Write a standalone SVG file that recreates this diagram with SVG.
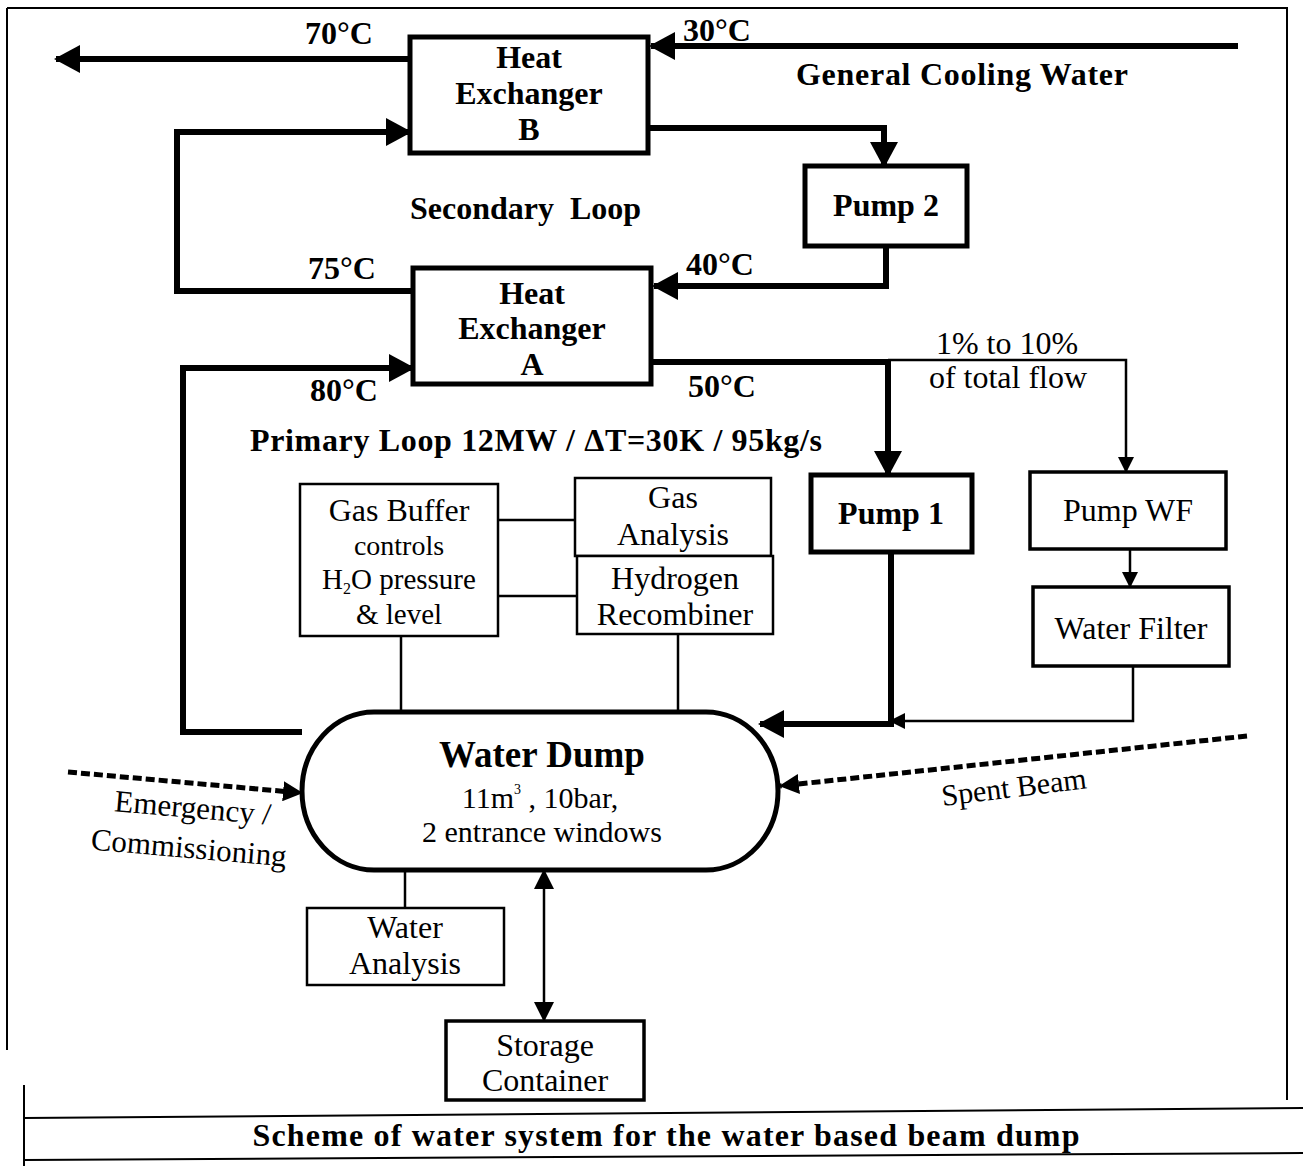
<svg xmlns="http://www.w3.org/2000/svg" width="1303" height="1166" viewBox="0 0 1303 1166">
<style>
.bold{font-family:"Liberation Serif","Times New Roman",serif;font-weight:bold;font-size:32px;fill:#000}
.reg{font-family:"Liberation Serif","Times New Roman",serif;font-size:32px;fill:#000}
.c{text-anchor:middle}
.thick{fill:#fff;stroke:#000;stroke-width:5}
.thin{fill:#fff;stroke:#000;stroke-width:2.5}
.pipe{fill:none;stroke:#000;stroke-width:6;stroke-linejoin:miter}
.line{fill:none;stroke:#000;stroke-width:2.5}
.dash{fill:none;stroke:#000;stroke-width:5;stroke-dasharray:9 4}
.frame{fill:none;stroke:#000;stroke-width:2}
</style>
<defs>
<marker id="big" markerUnits="userSpaceOnUse" markerWidth="26" markerHeight="28" refX="24" refY="14" orient="auto">
<path d="M0,0 L26,14 L0,28 Z" fill="#000"/>
</marker>
<marker id="small" markerUnits="userSpaceOnUse" markerWidth="16" markerHeight="16" refX="15" refY="8" orient="auto">
<path d="M0,0 L16,8 L0,16 Z" fill="#000"/>
</marker>
<marker id="mid" markerUnits="userSpaceOnUse" markerWidth="20" markerHeight="20" refX="19" refY="10" orient="auto">
<path d="M0,0 L20,10 L0,20 Z" fill="#000"/>
</marker>
<marker id="midStart" markerUnits="userSpaceOnUse" markerWidth="20" markerHeight="20" refX="1" refY="10" orient="auto">
<path d="M20,0 L0,10 L20,20 Z" fill="#000"/>
</marker>
</defs>
<rect width="1303" height="1166" fill="#fff"/>

<g id="frame">
<path class="frame" d="M7,8 L1287,8 L1287,1100"/>
<path class="frame" d="M7,8 L7,1050"/>
<path class="frame" d="M24,1085 L24,1166"/>
<path class="frame" d="M24,1118 L1303,1108"/>
<path class="frame" d="M24,1160 L1303,1153"/>
</g>

<g id="connectors">
<path class="pipe" d="M410,59 L56,59" marker-end="url(#big)"/>
<path class="pipe" d="M1238,46 L651,46" marker-end="url(#big)"/>
<path class="pipe" d="M648,128 L884,128 L884,166" marker-end="url(#big)"/>
<path class="pipe" d="M413,291 L177,291 L177,132 L410,132" marker-end="url(#big)"/>
<path class="pipe" d="M886,246 L886,286 L654,286" marker-end="url(#big)"/>
<path class="pipe" d="M651,362 L888,362 L888,475" marker-end="url(#big)"/>
<path class="line" d="M888,360 L1126,360 L1126,472" marker-end="url(#small)"/>
<path class="pipe" d="M302,732 L183,732 L183,368 L413,368" marker-end="url(#big)"/>
<path class="pipe" d="M891,552 L891,724 L760,724" marker-end="url(#big)"/>
<path class="line" d="M1133,666 L1133,721 L890,721" marker-end="url(#small)"/>
<path class="line" d="M1130,549 L1130,587" marker-end="url(#small)"/>
<path class="line" d="M498,520 L575,520"/>
<path class="line" d="M498,596 L577,596"/>
<path class="line" d="M401,636 L401,713"/>
<path class="line" d="M678,634 L678,713"/>
<path class="line" d="M405,870 L405,908"/>
<path class="line" d="M544,870 L544,1021" marker-start="url(#midStart)" marker-end="url(#mid)"/>
<path class="dash" d="M68,772 L302,793" marker-end="url(#mid)"/>
<path class="dash" d="M1247,736 L780,786" marker-end="url(#mid)"/>
</g>

<g id="hxB">
<rect class="thick" x="410" y="37" width="238" height="116"/>
<text class="bold c" x="529" y="68">Heat</text>
<text class="bold c" x="529" y="104">Exchanger</text>
<text class="bold c" x="529" y="140">B</text>
</g>
<g id="pump2">
<rect class="thick" x="805" y="166" width="162" height="80"/>
<text class="bold c" x="886" y="216">Pump 2</text>
</g>
<g id="hxA">
<rect class="thick" x="413" y="268" width="238" height="116"/>
<text class="bold c" x="532" y="304">Heat</text>
<text class="bold c" x="532" y="339">Exchanger</text>
<text class="bold c" x="532" y="375">A</text>
</g>
<g id="pump1">
<rect class="thick" x="811" y="475" width="161" height="77"/>
<text class="bold c" x="891" y="524">Pump 1</text>
</g>
<g id="pumpWF">
<rect class="thin" style="stroke-width:3.5" x="1030" y="472" width="196" height="77"/>
<text class="reg c" x="1128" y="521">Pump WF</text>
</g>
<g id="waterFilter">
<rect class="thin" style="stroke-width:3.5" x="1033" y="587" width="196" height="79"/>
<text class="reg c" x="1131" y="639">Water Filter</text>
</g>
<g id="gasBuffer">
<rect class="thin" x="300" y="484" width="198" height="152"/>
<text class="reg c" x="399" y="521">Gas Buffer</text>
<text class="reg c" x="399" y="555" style="font-size:28px">controls</text>
<text class="reg c" x="399" y="589" style="font-size:29px">H<tspan style="font-size:16px" dy="5">2</tspan><tspan dy="-5">O pressure</tspan></text>
<text class="reg c" x="399" y="624" style="font-size:29px">&amp; level</text>
</g>
<g id="gasAnalysis">
<rect class="thin" x="575" y="478" width="196" height="78"/>
<text class="reg c" x="673" y="508">Gas</text>
<text class="reg c" x="673" y="545">Analysis</text>
</g>
<g id="hydrogenRecombiner">
<rect class="thin" x="577" y="556" width="196" height="78"/>
<text class="reg c" x="675" y="589">Hydrogen</text>
<text class="reg c" x="675" y="625">Recombiner</text>
</g>
<g id="waterDump">
<rect class="thick" x="302" y="712" width="476" height="158" rx="72" ry="79"/>
<text class="bold c" x="542" y="767" style="font-size:37px">Water Dump</text>
<text class="reg c" x="540" y="808" style="font-size:30px">11m<tspan style="font-size:14px" dy="-14">3</tspan><tspan dy="14"> , 10bar,</tspan></text>
<text class="reg c" x="542" y="842" style="font-size:30px">2 entrance windows</text>
</g>
<g id="waterAnalysis">
<rect class="thin" x="307" y="908" width="197" height="77"/>
<text class="reg c" x="405" y="938">Water</text>
<text class="reg c" x="405" y="974">Analysis</text>
</g>
<g id="storageContainer">
<rect class="thin" style="stroke-width:3.5" x="446" y="1021" width="198" height="79"/>
<text class="reg c" x="545" y="1056">Storage</text>
<text class="reg c" x="545" y="1091">Container</text>
</g>

<g id="labels">
<text class="bold" x="305" y="44">70°C</text>
<text class="bold" x="683" y="41">30°C</text>
<text class="bold" x="796" y="85" textLength="332">General Cooling Water</text>
<text class="bold" x="410" y="219" style="white-space:pre">Secondary  Loop</text>
<text class="bold" x="308" y="279">75°C</text>
<text class="bold" x="686" y="275">40°C</text>
<text class="bold" x="310" y="401">80°C</text>
<text class="bold" x="688" y="397">50°C</text>
<text class="bold" x="250" y="451" textLength="572">Primary Loop 12MW / ΔT=30K / 95kg/s</text>
<text class="reg c" x="1007" y="354">1% to 10%</text>
<text class="reg c" x="1008" y="388">of total flow</text>
<text class="reg c" transform="translate(192,818) rotate(5)" x="0" y="0" style="font-size:31px">Emergency /</text>
<text class="reg c" transform="translate(188,858) rotate(5)" x="0" y="0" style="font-size:31px">Commissioning</text>
<text class="reg c" transform="translate(1015,797) rotate(-7)" x="0" y="0" style="font-size:30px">Spent Beam</text>
<text class="bold c" x="666" y="1146" style="font-size:32px" textLength="827">Scheme of water system for the water based beam dump</text>
</g>
</svg>
